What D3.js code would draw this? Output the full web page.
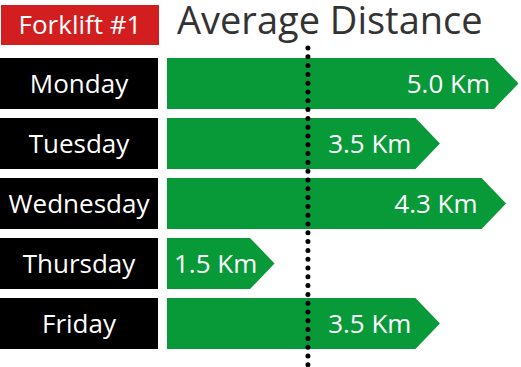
<!DOCTYPE html>
<html>
<head>
<meta charset="utf-8">
<script src="https://cdn.jsdelivr.net/npm/d3@7/dist/d3.min.js"></script>
<style>
  html, body { margin: 0; padding: 0; background: #ffffff; }
  svg { display: block; }
  text { font-family: "Open Sans", "Noto Sans", sans-serif; }
</style>
</head>
<body>
<div id="chart"></div>
<script>
// ---- data ----
const days = ["Monday", "Tuesday", "Wednesday", "Thursday", "Friday"];
const distances = [5.0, 3.5, 4.3, 1.5, 3.5];
const unit = "Km";
const badgeText = "Forklift #1";
const titleText = "Average Distance";
const referenceValue = 2.2;

// ---- layout ----
const W = 521, H = 367;
const svg = d3.select("#chart").append("svg")
  .attr("width", W).attr("height", H);

const y = d3.scaleBand().domain(days).range([58, 349]).paddingInner(0.15).paddingOuter(0);
const x = d3.scaleLinear().domain([0, 4.45]).range([126, 494]).clamp(true);
const barStart = 167;
const labelW = 158;

const rows = days.map((d, i) => ({ day: d, value: distances[i] }));

// badge
svg.append("rect").attr("x", 1).attr("y", 5).attr("width", 158).attr("height", 40)
  .attr("fill", "#d21e1e");
svg.append("text").attr("x", 80).attr("y", 34).attr("text-anchor", "middle")
  .attr("fill", "#fff").attr("font-size", 26).attr("font-weight", 500).text(badgeText);

// title
svg.append("text").attr("x", 177).attr("y", 34).attr("fill", "#333333")
  .attr("font-size", 38).text(titleText);

// day labels
const g = svg.append("g");
g.selectAll("rect.lab").data(rows).join("rect").attr("class", "lab")
  .attr("x", 0).attr("y", d => y(d.day)).attr("width", labelW).attr("height", y.bandwidth())
  .attr("fill", "#000");
g.selectAll("text.lab").data(rows).join("text").attr("class", "lab")
  .attr("x", labelW / 2).attr("y", d => y(d.day) + y.bandwidth() / 2)
  .attr("dy", "0.37em").attr("text-anchor", "middle").attr("fill", "#fff")
  .attr("font-size", 26).attr("font-weight", 500).text(d => d.day);

// arrows
const hb = y.bandwidth() / 2;
g.selectAll("path.bar").data(rows).join("path").attr("class", "bar")
  .attr("fill", "#089a38")
  .attr("d", d => {
    const t = y(d.day), s = x(d.value), depth = hb - 1;
    return `M${barStart},${t}H${s}L${s + depth},${t + hb}L${s},${t + 2 * hb}H${barStart}Z`;
  });

// reference dotted line
svg.append("line").attr("x1", x(referenceValue)).attr("x2", x(referenceValue))
  .attr("y1", 48).attr("y2", H + 5)
  .attr("stroke", "#000").attr("stroke-width", 5)
  .attr("stroke-linecap", "round").attr("stroke-dasharray", "0 8.8");

// value labels
g.selectAll("text.val").data(rows).join("text").attr("class", "val")
  .attr("y", d => y(d.day) + y.bandwidth() / 2).attr("dy", "0.37em")
  .attr("fill", "#fff").attr("font-size", 26).attr("font-weight", 500)
  .text(d => d.value.toFixed(1) + " " + unit)
  .each(function (d) {
    const el = d3.select(this);
    const w = this.getComputedTextLength();
    let endX = x(d.value) - 4;
    if (endX - w < barStart + 7) endX = barStart + 7 + w;
    el.attr("x", endX).attr("text-anchor", "end");
  });
svg.selectAll("text.val").raise();
</script>
</body>
</html>
